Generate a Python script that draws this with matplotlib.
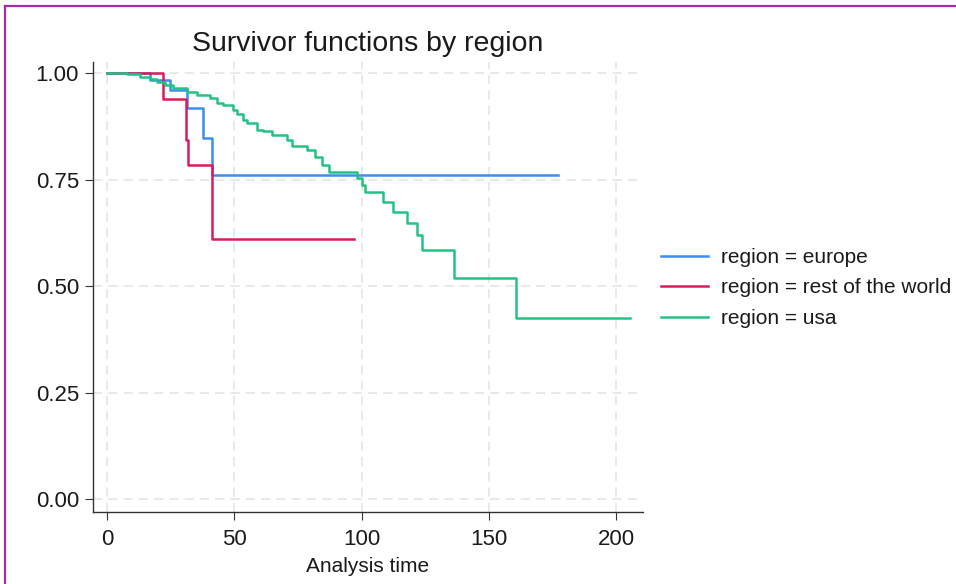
import matplotlib
matplotlib.use("Agg")
import matplotlib.pyplot as plt
from matplotlib.lines import Line2D

plt.rcParams['font.family'] = ['Liberation Sans', 'DejaVu Sans']

# Kaplan-Meier step data (time, survival after step)
europe_t = [0, 16.9, 24.8, 31.3, 37.8, 41.1, 177.2]
europe_s = [1.0, 0.984, 0.960, 0.919, 0.847, 0.761, 0.761]

row_t = [0, 21.9, 30.9, 32.0, 41.1, 97.2]
row_s = [1.0, 0.940, 0.843, 0.784, 0.610, 0.610]

usa_t = [0, 7.9, 13.0, 16.9, 19.5, 22.8, 25.9, 31.3, 35.2, 40.5, 43.1, 45.6,
         49.6, 50.9, 53.6, 54.9, 58.8, 61.4, 64.7, 70.6, 72.6, 78.5, 81.7,
         84.4, 87.3, 98.1, 100.3, 101.4, 108.6, 112.5, 117.8, 121.7, 123.7,
         136.3, 160.7, 205.5]
usa_s = [1.0, 0.999, 0.991, 0.986, 0.980, 0.972, 0.964, 0.956, 0.948, 0.941,
         0.929, 0.925, 0.913, 0.905, 0.890, 0.882, 0.866, 0.864, 0.854, 0.843,
         0.829, 0.819, 0.804, 0.784, 0.767, 0.753, 0.737, 0.720, 0.698, 0.674,
         0.649, 0.620, 0.585, 0.518, 0.424, 0.424]

labels = ["region = europe", "region = rest of the world", "region = usa"]
colors = ["#3a8ff0", "#d81c5c", "#22c285"]

xticks = [0, 50, 100, 150, 200]
yticks = [0.0, 0.25, 0.5, 0.75, 1.0]
ytick_labels = ["0.00", "0.25", "0.50", "0.75", "1.00"]

fig = plt.figure(figsize=(9.56, 5.84), dpi=100)
ax = fig.add_axes([93/956, 1-512/584, (643-93)/956, (512-62)/584])

for t, s, c, lab in zip([europe_t, row_t, usa_t], [europe_s, row_s, usa_s], colors, labels):
    ax.step(t, s, where='post', color=c, lw=1.8, label=lab)

ax.set_xlim(-5.5, 210.6)
ax.set_ylim(-0.0305, 1.026)
ax.set_xticks(xticks)
ax.set_yticks(yticks)
ax.set_yticklabels(ytick_labels)
ax.grid(True, color='#e3e3e3', ls=(0, (6, 4)), lw=1.1)
ax.set_axisbelow(True)
for sp in ['top', 'right']:
    ax.spines[sp].set_visible(False)
for sp in ['left', 'bottom']:
    ax.spines[sp].set_color('#333333')
    ax.spines[sp].set_linewidth(1.0)
ax.tick_params(axis='both', labelsize=16, length=6, color='#333333', labelcolor='#1a1a1a', pad=4)
ax.tick_params(axis='x', pad=6)
ax.set_xlabel("Analysis time", fontsize=15, color='#1a1a1a', labelpad=5)
ax.set_title("Survivor functions by region", fontsize=20.5, color='#1a1a1a', pad=8)

leg = ax.legend(loc='center left', bbox_to_anchor=(661/956, 1-288/584), bbox_transform=fig.transFigure,
                frameon=False, fontsize=15, handlelength=2.26, handletextpad=0.6, labelspacing=0.55,
                borderpad=0, borderaxespad=0)
for txt in leg.get_texts():
    txt.set_color('#1a1a1a')

# purple frame (top and left)
fig.add_artist(Line2D([5/956, 1], [1-6/584, 1-6/584], transform=fig.transFigure, color='#a82aa8', lw=1.6))
fig.add_artist(Line2D([5/956, 5/956], [0, 1-6/584], transform=fig.transFigure, color='#a82aa8', lw=1.6))

fig.savefig("out.png", dpi=100, facecolor='white')
